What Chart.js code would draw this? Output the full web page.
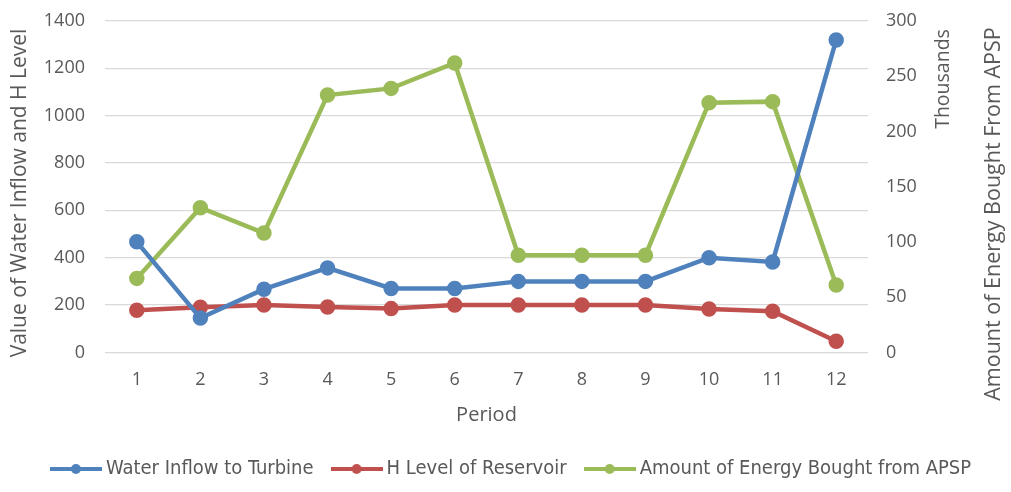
<!DOCTYPE html>
<html>
<head>
<meta charset="utf-8">
<script src="https://cdn.jsdelivr.net/npm/chart.js@4/dist/chart.umd.min.js"></script>
<style>
  html, body { margin: 0; padding: 0; background: #ffffff; }
  #wrap { width: 1011px; height: 492px; }
</style>
</head>
<body>
<div id="wrap"><canvas id="c" width="1011" height="492"></canvas></div>
<script>
// Periods on the x axis
const periods = ['1', '2', '3', '4', '5', '6', '7', '8', '9', '10', '11', '12'];

// Left axis series
const waterInflow = [467, 145, 267, 357, 270, 270, 300, 300, 300, 400, 382, 1320];
const hLevel = [178, 191, 200, 192, 185, 200, 200, 200, 200, 183, 174, 47];

// Right axis series (thousands)
const energyBought = [67, 131, 108, 233, 239, 262, 88, 88, 88, 226, 227, 61];

const seriesNames = ['Water Inflow to Turbine', 'H Level of Reservoir', 'Amount of Energy Bought from APSP'];
const seriesColors = ['#4F81BD', '#C0504D', '#9BBB59'];

const textColor = '#595959';
const gridColor = '#D9D9D9';
const fontFamily = "'Open Sans', 'Noto Sans', sans-serif";

// Legend marker: short line with a dot in the middle
function legendMarker(color) {
  const cv = document.createElement('canvas');
  cv.width = 52; cv.height = 14;
  const g = cv.getContext('2d');
  g.strokeStyle = color; g.lineWidth = 4;
  g.beginPath(); g.moveTo(0, 7); g.lineTo(52, 7); g.stroke();
  g.fillStyle = color;
  g.beginPath(); g.arc(26, 7, 5, 0, Math.PI * 2); g.fill();
  return cv;
}

// Rotated axis captions: both axis titles and the display-unit label
const axisCaptions = {
  id: 'axisCaptions',
  afterLayout(chart) {
    // nudge the legend row slightly right
    if (chart.legend) { chart.legend.left += 8; chart.legend.right += 8; }
  },
  afterDraw(chart) {
    const ctx = chart.ctx;
    const captions = [
      { text: 'Value of Water Inflow and H Level', x: 20, y: 193, size: 21 },
      { text: 'Thousands', x: 943, y: 79, size: 19.5 },
      { text: 'Amount of Energy Bought From APSP', x: 994, y: 214, size: 21.5 }
    ];
    captions.forEach(c => {
      ctx.save();
      ctx.fillStyle = textColor;
      ctx.textAlign = 'center';
      ctx.textBaseline = 'middle';
      ctx.font = c.size + "px " + fontFamily;
      ctx.translate(c.x, c.y);
      ctx.rotate(-Math.PI / 2);
      ctx.fillText(c.text, 0, 0);
      ctx.restore();
    });
  }
};

function lineDataset(label, data, color, axis) {
  return {
    label: label,
    data: data,
    yAxisID: axis,
    borderColor: color,
    backgroundColor: color,
    borderWidth: 4.5,
    pointRadius: 5.5,
    pointHoverRadius: 5.5,
    pointBackgroundColor: color,
    pointBorderColor: color,
    tension: 0
  };
}

const plainNumber = v => String(v);

// Fixed-width vertical axes; the layout padding sets the plot's top edge
function fixWidth(w) {
  return scale => {
    scale.width = w;
    scale.paddingTop = 0;
    scale.paddingBottom = 0;
  };
}

new Chart(document.getElementById('c'), {
  type: 'line',
  data: {
    labels: periods,
    datasets: [
      lineDataset(seriesNames[0], waterInflow, seriesColors[0], 'y'),
      lineDataset(seriesNames[1], hLevel, seriesColors[1], 'y'),
      lineDataset(seriesNames[2], energyBought, seriesColors[2], 'y1')
    ]
  },
  options: {
    responsive: false,
    animation: false,
    layout: { padding: { top: 21, bottom: 3, left: 0, right: 0 } },
    plugins: {
      tooltip: { enabled: false },
      legend: {
        position: 'bottom',
        labels: {
          usePointStyle: true,
          pointStyleWidth: 40,
          color: textColor,
          font: { family: "'Liberation Sans Narrow', 'DejaVu Sans Condensed', sans-serif", size: 20 },
          padding: 23,
          generateLabels(chart) {
            return chart.data.datasets.map((ds, i) => ({
              text: ds.label,
              fontColor: textColor,
              pointStyle: legendMarker(seriesColors[i]),
              fillStyle: seriesColors[i],
              strokeStyle: seriesColors[i],
              lineWidth: 0,
              hidden: false,
              datasetIndex: i
            }));
          }
        }
      }
    },
    scales: {
      x: {
        offset: true,
        grid: { display: false, drawTicks: false },
        border: { display: false },
        ticks: { color: textColor, font: { family: fontFamily, size: 18 }, padding: 17, maxRotation: 0 },
        title: { display: true, text: 'Period', color: textColor, font: { family: fontFamily, size: 20 }, padding: { top: -5, bottom: 9 } }
      },
      y: {
        position: 'left',
        min: 0, max: 1400,
        ticks: { stepSize: 200, color: textColor, font: { family: fontFamily, size: 18 }, padding: 20, callback: plainNumber },
        grid: { color: gridColor, lineWidth: 1.3, drawTicks: false },
        border: { display: false },
        afterFit: fixWidth(105)
      },
      y1: {
        position: 'right',
        min: 0, max: 300,
        ticks: { stepSize: 50, color: textColor, font: { family: fontFamily, size: 18 }, padding: 18, callback: plainNumber },
        grid: { display: false, drawTicks: false },
        border: { display: false },
        afterFit: fixWidth(143)
      }
    }
  },
  plugins: [axisCaptions]
});
</script>
</body>
</html>
